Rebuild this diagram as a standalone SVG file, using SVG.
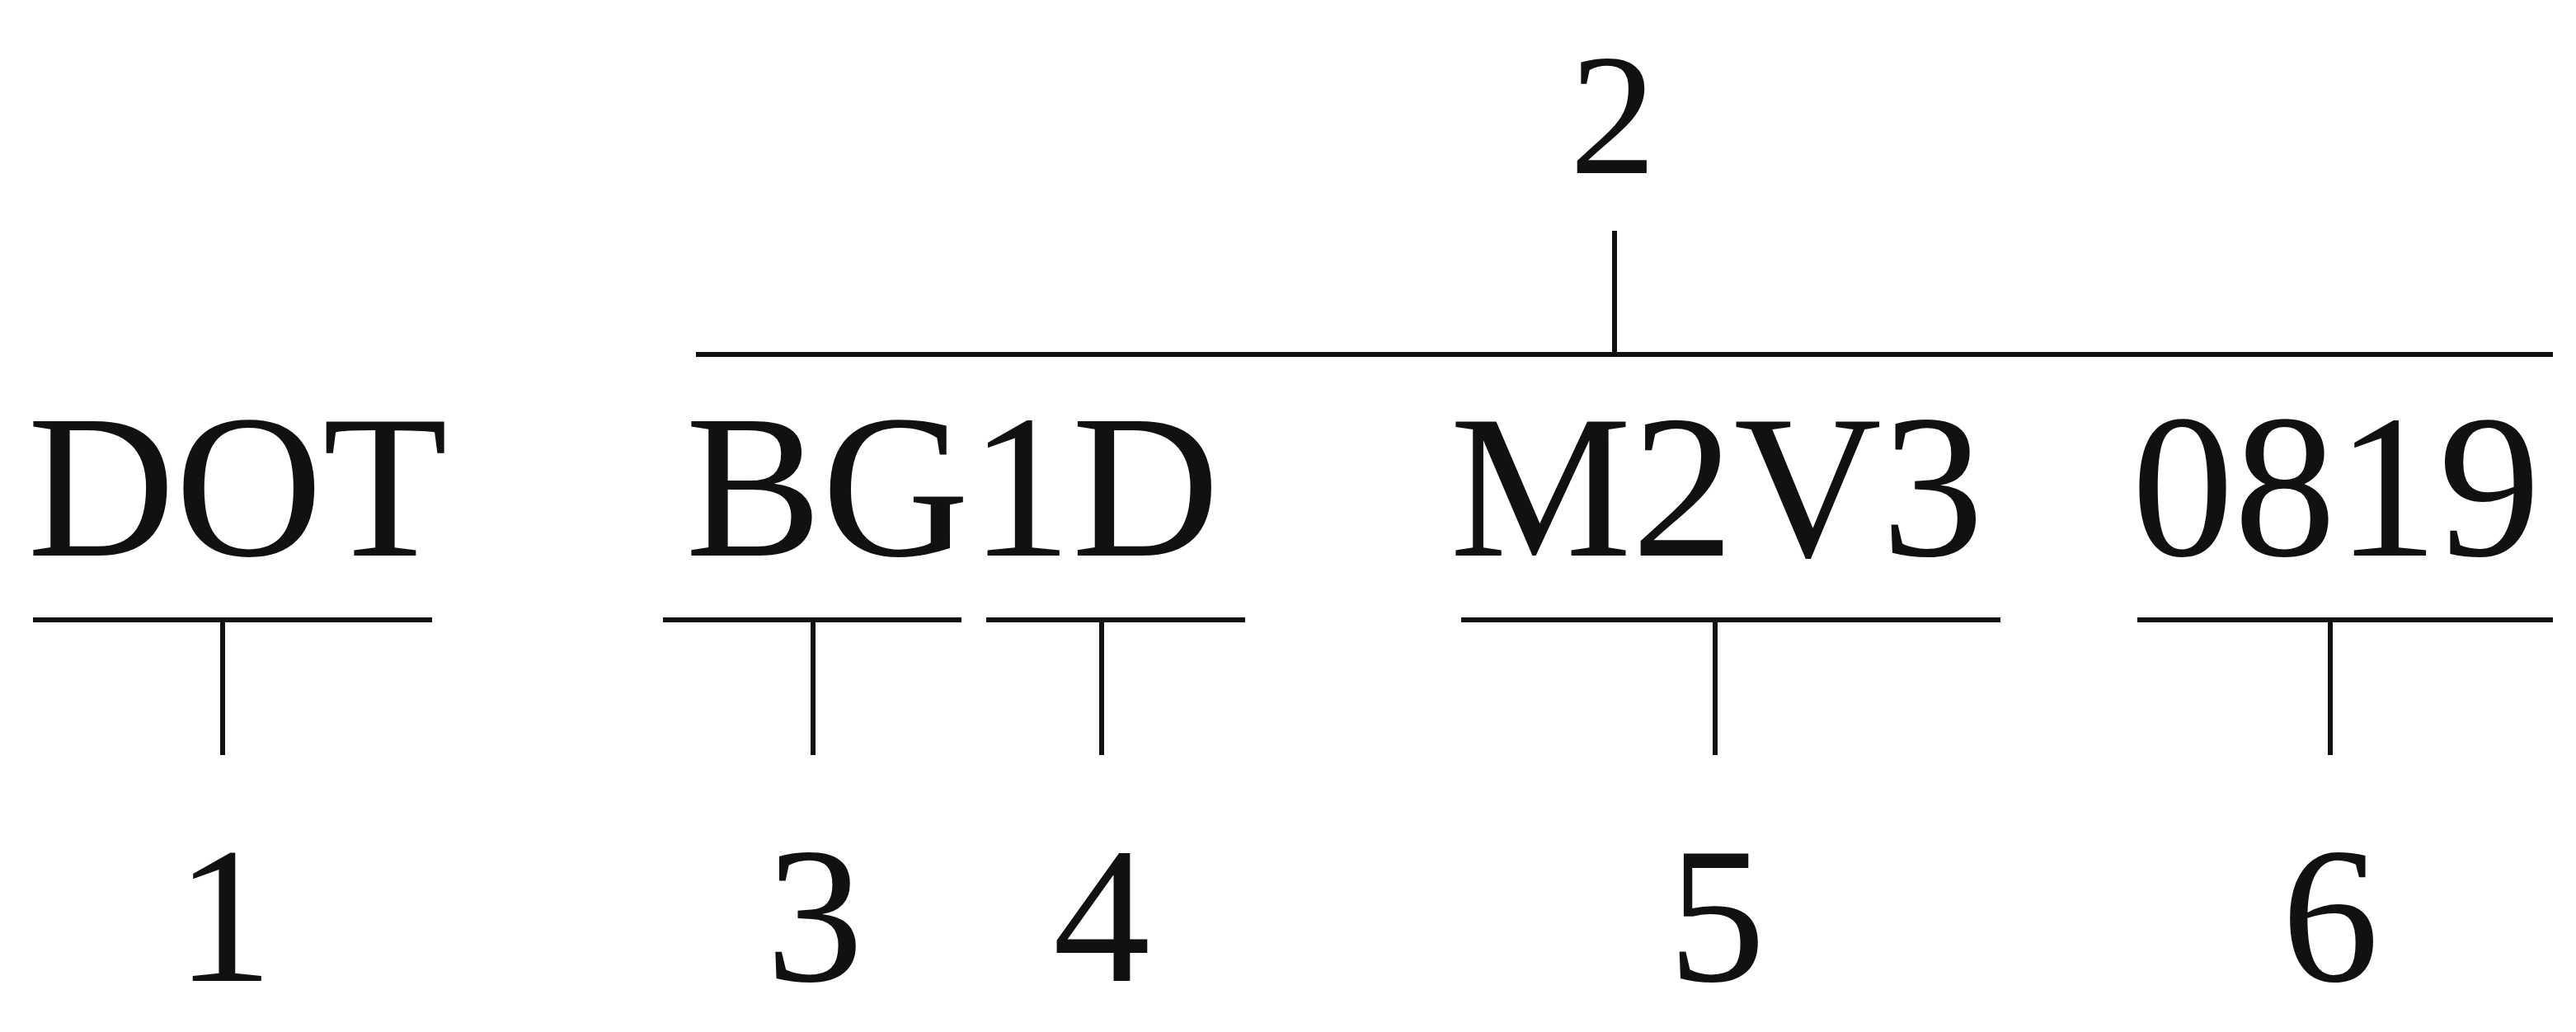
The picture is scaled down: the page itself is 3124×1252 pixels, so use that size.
<svg xmlns="http://www.w3.org/2000/svg" width="3124" height="1252" viewBox="0 0 3124 1252">
<style>
text{font-family:"Liberation Serif",serif;fill:#111;text-anchor:middle}
.big{font-size:248px}.num{font-size:236px}
line{stroke:#111;stroke-width:6}
</style>
<rect width="3124" height="1252" fill="#fff"/>
<g id="n2"><text x="1956" y="210" style="font-size:210px">2</text></g>
<g id="nDOT"><text class="big" x="288" y="674">DOT</text></g>
<g id="nBG1D"><text class="big" x="1155" y="674">BG1D</text></g>
<g id="nM2V3"><text class="big" x="2082" y="674">M2V3</text></g>
<g id="n0819"><text class="big" x="2833" y="674">0819</text></g>
<g id="n1"><text class="num" x="272" y="1190">1</text></g>
<g id="n3"><text class="num" x="988" y="1190">3</text></g>
<g id="n4"><text class="num" x="1336" y="1190">4</text></g>
<g id="n5"><text class="num" x="2082" y="1190">5</text></g>
<g id="n6"><text class="num" x="2826" y="1190">6</text></g>
<g id="connectors">
<line x1="1958" y1="280" x2="1958" y2="430"/>
<line x1="844" y1="430" x2="3096" y2="430"/>
<line x1="40" y1="752" x2="524" y2="752"/>
<line x1="804" y1="752" x2="1166" y2="752"/>
<line x1="1196" y1="752" x2="1510" y2="752"/>
<line x1="1772" y1="752" x2="2426" y2="752"/>
<line x1="2592" y1="752" x2="3096" y2="752"/>
<line x1="270" y1="752" x2="270" y2="916"/>
<line x1="986" y1="752" x2="986" y2="916"/>
<line x1="1336" y1="752" x2="1336" y2="916"/>
<line x1="2080" y1="752" x2="2080" y2="916"/>
<line x1="2826" y1="752" x2="2826" y2="916"/>
</g>
</svg>
